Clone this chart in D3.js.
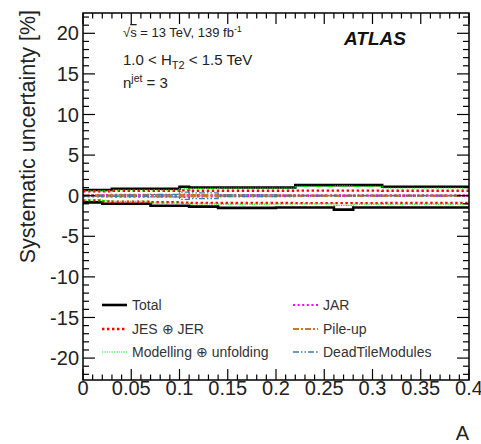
<!DOCTYPE html>
<html>
<head>
<meta charset="utf-8">
<script src="https://cdn.jsdelivr.net/npm/d3@7"></script>
<style>
  html, body { margin: 0; padding: 0; background: #fff; }
  svg { display: block; font-family: "Liberation Sans", Arial, Helvetica, sans-serif; }
</style>
</head>
<body>
<svg id="chart" width="481" height="444"></svg>
<script>
// Bin edges in aplanarity A
const binEdges = [0, 0.02, 0.03, 0.07, 0.1, 0.11, 0.14, 0.2, 0.22, 0.26, 0.28, 0.31, 0.4];

// Relative systematic uncertainties [%] per bin, up and down variations
const totalUp     = [0.70, 0.70, 0.86, 0.86, 1.10, 1.00, 1.00, 1.00, 1.30, 1.30, 1.30, 1.10];
const totalDown   = [-0.82, -1.00, -1.00, -1.23, -1.23, -1.35, -1.50, -1.45, -1.45, -1.72, -1.45, -1.45];
const jesUp       = [0.55, 0.55, 0.60, 0.60, 0.65, 0.60, 0.60, 0.60, 0.62, 0.62, 0.62, 0.60];
const jesDown     = [-0.60, -0.70, -0.75, -0.80, -0.85, -0.90, -0.90, -0.90, -0.92, -0.92, -0.92, -0.90];
const modelUp     = [0.55, 0.60, 0.70, 0.70, 0.85, 0.90, 0.95, 0.95, 1.15, 1.20, 1.15, 0.95];
const modelDown   = [-0.55, -0.65, -0.70, -0.90, -0.95, -1.00, -1.05, -1.00, -1.00, -1.20, -1.05, -1.05];
const jarUp       = [0.10, 0.10, 0.12, 0.10, 0.15, 0.10, 0.08, 0.06, 0.05, 0.05, 0.05, 0.05];
const jarDown     = [-0.10, -0.10, -0.12, -0.10, -0.15, -0.10, -0.08, -0.06, -0.05, -0.05, -0.05, -0.05];
const pileupUp    = [0.05, 0.06, 0.08, 0.08, 0.10, 0.08, 0.05, 0.04, 0.03, 0.03, 0.03, 0.03];
const pileupDown  = [-0.05, -0.06, -0.08, -0.08, -0.10, -0.08, -0.05, -0.04, -0.03, -0.03, -0.03, -0.03];
const deadTileUp  = [0.05, 0.05, 0.08, 0.15, 0.45, 0.35, 0.10, 0.05, 0.03, 0.03, 0.03, 0.03];
const deadTileDown= [-0.05, -0.05, -0.08, -0.15, -0.45, -0.35, -0.10, -0.05, -0.03, -0.03, -0.03, -0.03];

// Axis ticks
const xMajorTicks = [0, 0.05, 0.1, 0.15, 0.2, 0.25, 0.3, 0.35, 0.4];
const xTickLabels = ["0", "0.05", "0.1", "0.15", "0.2", "0.25", "0.3", "0.35", "0.4"];
const yMajorTicks = [-20, -15, -10, -5, 0, 5, 10, 15, 20];
const yTickLabels = ["-20", "-15", "-10", "-5", "0", "5", "10", "15", "20"];

const series = [
  { name: "Total",                   up: totalUp,    down: totalDown,    color: "#000000", width: 2.6, dash: null },
  { name: "JES \u2295 JER",          up: jesUp,      down: jesDown,      color: "#ff0000", width: 2.4, dash: "2.4,2.6" },
  { name: "Modelling \u2295 unfolding", up: modelUp, down: modelDown,    color: "#00ee00", width: 1.2, dash: "1.2,1.2" },
  { name: "JAR",                     up: jarUp,      down: jarDown,      color: "#ff00ff", width: 2.0, dash: "2,2.6" },
  { name: "Pile-up",                 up: pileupUp,   down: pileupDown,   color: "#c8782e", width: 2.0, dash: "6,2,2,2" },
  { name: "DeadTileModules",         up: deadTileUp, down: deadTileDown, color: "#3b7ea6", width: 1.3, dash: "6,2,1.5,2,1.5,2" }
];

const svg = d3.select("#chart");
const frame = { left: 83, right: 469, top: 13, bottom: 380 };

const x = d3.scaleLinear().domain([0, 0.4]).range([frame.left, frame.right]);
const y = d3.scaleLinear().domain([-22.7, 22.5]).range([frame.bottom, frame.top]);

svg.append("defs").append("clipPath").attr("id", "plotClip")
  .append("rect")
  .attr("x", frame.left).attr("y", frame.top)
  .attr("width", frame.right - frame.left).attr("height", frame.bottom - frame.top);

// Step-histogram outline for one variation
function stepPoints(vals) {
  const pts = [];
  vals.forEach((v, i) => {
    pts.push([binEdges[i], v]);
    pts.push([binEdges[i + 1], v]);
  });
  return pts;
}
const line = d3.line().x(d => x(d[0])).y(d => y(d[1]));

const plot = svg.append("g").attr("clip-path", "url(#plotClip)");
series.forEach(s => {
  [s.up, s.down].forEach(vals => {
    plot.append("path")
      .attr("d", line(stepPoints(vals)))
      .attr("fill", "none")
      .attr("stroke", s.color)
      .attr("stroke-width", s.width)
      .attr("stroke-dasharray", s.dash)
      .attr("stroke-linejoin", "miter");
  });
});

// Frame with ticks on all four sides
const axisG = svg.append("g").attr("stroke", "#000").attr("stroke-width", 1.2);
axisG.append("rect")
  .attr("x", frame.left).attr("y", frame.top)
  .attr("width", frame.right - frame.left).attr("height", frame.bottom - frame.top)
  .attr("fill", "none").attr("stroke-width", 1.5);

const xMinor = d3.range(0, 41).map(i => i / 100);
xMinor.forEach(v => {
  const major = xMajorTicks.some(t => Math.abs(t - v) < 1e-9);
  const len = major ? 11 : 5.5;
  axisG.append("line").attr("x1", x(v)).attr("x2", x(v))
    .attr("y1", frame.bottom).attr("y2", frame.bottom - len);
  axisG.append("line").attr("x1", x(v)).attr("x2", x(v))
    .attr("y1", frame.top).attr("y2", frame.top + len);
});

const yMinor = d3.range(-22, 23);
yMinor.forEach(v => {
  const major = yMajorTicks.includes(v);
  const len = major ? 12 : 6;
  axisG.append("line").attr("y1", y(v)).attr("y2", y(v))
    .attr("x1", frame.left).attr("x2", frame.left + len);
  axisG.append("line").attr("y1", y(v)).attr("y2", y(v))
    .attr("x1", frame.right).attr("x2", frame.right - len);
});

// Tick labels
svg.append("g").selectAll("text").data(xMajorTicks).join("text")
  .attr("x", d => x(d)).attr("y", 395)
  .attr("text-anchor", "middle")
  .attr("font-size", 20).attr("fill", "#222")
  .text((d, i) => xTickLabels[i]);

svg.append("g").selectAll("text").data(yMajorTicks).join("text")
  .attr("x", 79).attr("y", d => y(d))
  .attr("dy", "0.36em")
  .attr("text-anchor", "end")
  .attr("font-size", 20).attr("fill", "#222")
  .text((d, i) => yTickLabels[i]);

// Axis titles
svg.append("text")
  .attr("x", 469).attr("y", 440)
  .attr("text-anchor", "end")
  .attr("font-size", 20).attr("fill", "#222")
  .text("A");

svg.append("text")
  .attr("transform", "translate(35,10) rotate(-90)")
  .attr("text-anchor", "end")
  .attr("font-size", 21.5).attr("fill", "#222")
  .text("Systematic uncertainty [%]");

// Labels inside the frame
const t1 = svg.append("text").attr("x", 123).attr("y", 37).attr("font-size", 13).attr("fill", "#222");
t1.append("tspan").text("\u221A");
t1.append("tspan").attr("text-decoration", "overline").text("s");
t1.append("tspan").text(" = 13 TeV, 139 fb");
t1.append("tspan").attr("font-size", 9).attr("dy", -5).text("-1");

const t2 = svg.append("text").attr("x", 123).attr("y", 65).attr("font-size", 15).attr("fill", "#222");
t2.append("tspan").text("1.0 < H");
t2.append("tspan").attr("font-size", 11).attr("dy", 4).text("T2");
t2.append("tspan").attr("dy", -4).text(" < 1.5 TeV");

const t3 = svg.append("text").attr("x", 123).attr("y", 88).attr("font-size", 15).attr("fill", "#222");
t3.append("tspan").text("n");
t3.append("tspan").attr("font-size", 10.5).attr("dy", -6).text("jet");
t3.append("tspan").attr("dy", 6).text(" = 3");

svg.append("text")
  .attr("x", 344).attr("y", 45)
  .attr("font-size", 19).attr("font-weight", "bold").attr("font-style", "italic")
  .attr("fill", "#111")
  .text("ATLAS");

// Legend in two columns
const legendPos = [
  { lx: 102, ty: 305 }, { lx: 102, ty: 329 }, { lx: 102, ty: 352 },
  { lx: 293, ty: 305 }, { lx: 293, ty: 329 }, { lx: 293, ty: 352 }
];
const legend = svg.append("g");
series.forEach((s, k) => {
  const p = legendPos[k];
  legend.append("line")
    .attr("x1", p.lx).attr("x2", p.lx + 25)
    .attr("y1", p.ty).attr("y2", p.ty)
    .attr("stroke", s.color).attr("stroke-width", s.width)
    .attr("stroke-dasharray", s.dash);
  legend.append("text")
    .attr("x", p.lx + 30).attr("y", p.ty)
    .attr("dy", "0.36em")
    .attr("font-size", 14).attr("fill", "#333")
    .text(s.name);
});
</script>
</body>
</html>
